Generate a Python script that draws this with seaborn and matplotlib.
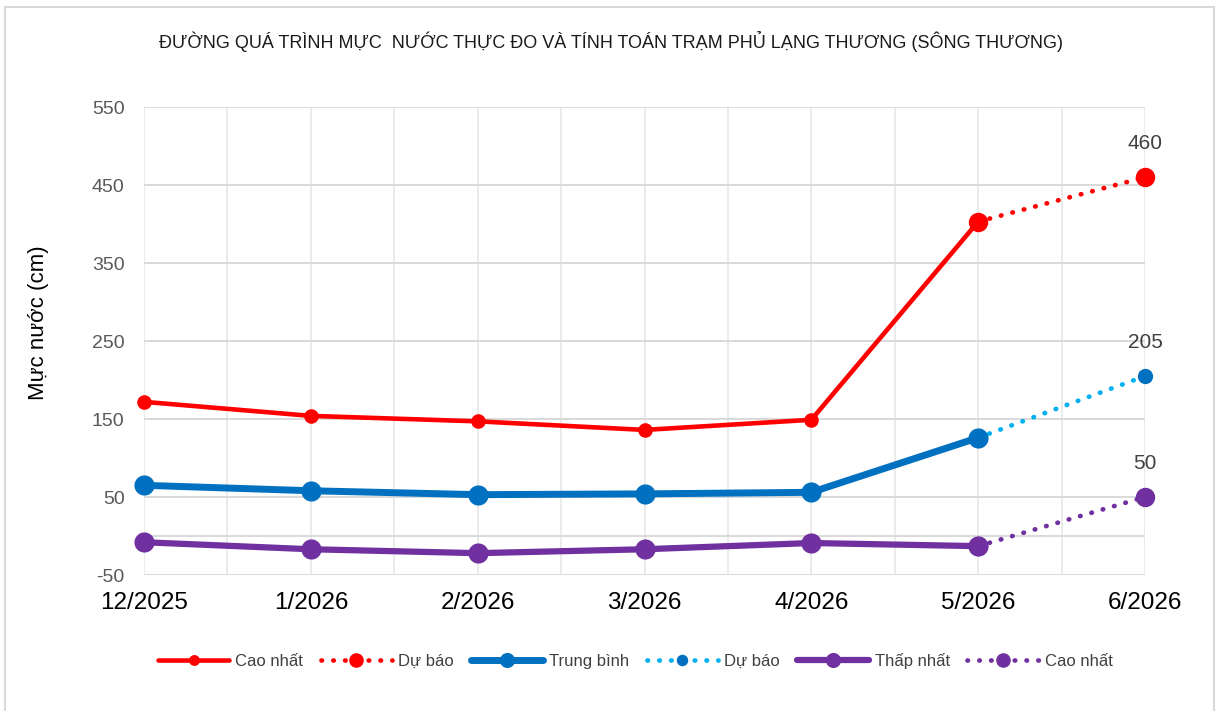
import matplotlib
matplotlib.use("Agg")
import matplotlib.pyplot as plt
from matplotlib.patches import Rectangle
from matplotlib.ticker import MultipleLocator, FixedLocator
import seaborn as sns
import pandas as pd

# ---------------- data ----------------
months = ["12/2025", "1/2026", "2/2026", "3/2026", "4/2026", "5/2026", "6/2026"]
cao_nhat = [172, 154, 147, 136, 149, 403]          # observed max, 12/2025..5/2026
trung_binh = [65, 58, 53, 54, 56, 126]             # observed mean
thap_nhat = [-8, -17, -22, -17, -9, -13]           # observed min
du_bao_cao = [403, 460]                            # forecast max, 5/2026..6/2026
du_bao_tb = [126, 205]                             # forecast mean
du_bao_thap = [-13, 50]                            # forecast min
forecast_labels = [460, 205, 50]

title = "ĐƯỜNG QUÁ TRÌNH MỰC  NƯỚC THỰC ĐO VÀ TÍNH TOÁN TRẠM PHỦ LẠNG THƯƠNG (SÔNG THƯƠNG)"
ylabel = "Mực nước (cm)"
legend_labels = ["Cao nhất", "Dự báo", "Trung bình", "Dự báo", "Thấp nhất", "Cao nhất"]

RED = "#FF0000"
BLUE = "#0070C0"
LBLUE = "#00B0F0"
PURPLE = "#7030A0"

sns.set_theme(style="white")
plt.rcParams["font.family"] = ["Liberation Sans", "DejaVu Sans"]
plt.rcParams["axes.unicode_minus"] = False

W, H = 1217, 711
fig = plt.figure(figsize=(W / 100, H / 100), dpi=100)
L, R, T, B = 144, 1145, 107, 575
ax = fig.add_axes([L / W, 1 - B / H, (R - L) / W, (B - T) / H])

x_obs = list(range(len(cao_nhat)))
x_fc = [len(cao_nhat) - 1, len(cao_nhat)]

obs = pd.DataFrame({"x": x_obs, "cao": cao_nhat, "tb": trung_binh, "thap": thap_nhat})
fc = pd.DataFrame({"x": x_fc, "cao": du_bao_cao, "tb": du_bao_tb, "thap": du_bao_thap})

dot = (0, (0.1, 2.4))
common = dict(ax=ax, markeredgewidth=0, clip_on=False, solid_capstyle="round",
              dash_capstyle="round")

sns.lineplot(data=obs, x="x", y="cao", color=RED, linewidth=3.3, marker="o",
             markersize=10.5, label=legend_labels[0], zorder=5, **common)
sns.lineplot(data=fc, x="x", y="cao", color=RED, linewidth=3.4, linestyle=dot,
             marker="o", markersize=14, label=legend_labels[1], zorder=4, **common)
sns.lineplot(data=obs, x="x", y="tb", color=BLUE, linewidth=5.0, marker="o",
             markersize=14.5, label=legend_labels[2], zorder=5, **common)
sns.lineplot(data=fc, x="x", y="tb", color=LBLUE, linewidth=3.4, linestyle=dot,
             marker="o", markersize=11, markerfacecolor=BLUE, label=legend_labels[3],
             zorder=4, **common)
sns.lineplot(data=obs, x="x", y="thap", color=PURPLE, linewidth=4.5, marker="o",
             markersize=14.5, label=legend_labels[4], zorder=5, **common)
sns.lineplot(data=fc, x="x", y="thap", color=PURPLE, linewidth=3.4, linestyle=dot,
             marker="o", markersize=14, label=legend_labels[5], zorder=4, **common)

# axes styling
ax.set_xlim(0, len(months) - 1)
ax.set_ylim(-50, 550)
ax.xaxis.set_major_locator(FixedLocator(range(len(months))))
ax.set_xticklabels(months)
ax.xaxis.set_minor_locator(MultipleLocator(0.5))
ax.yaxis.set_major_locator(FixedLocator([-50, 50, 150, 250, 350, 450, 550]))
ax.grid(True, axis="y", which="major", color="#D9D9D9", linewidth=1.4, zorder=0)
ax.grid(True, axis="x", which="both", color="#EBEBEB", linewidth=1.4, zorder=0)
ax.axhline(0, color="#D9D9D9", linewidth=1.4, zorder=1)
for s in ax.spines.values():
    s.set_visible(False)
ax.tick_params(axis="x", which="both", length=0, pad=12, labelsize=17.5, labelcolor="#000000")
ax.tick_params(axis="y", which="both", length=0, pad=14, labelsize=14, labelcolor="#595959")
ax.set_xlabel("")
ax.set_ylabel(ylabel, fontsize=16, color="#000000")
ax.yaxis.set_label_coords(-0.095, 0.54)

# data labels on forecast ends
for yv, lab in zip([du_bao_cao[-1], du_bao_tb[-1], du_bao_thap[-1]], forecast_labels):
    ax.annotate(str(lab), xy=(x_fc[-1], yv), xytext=(0, 24), textcoords="offset points",
                ha="center", va="center", fontsize=15, color="#404040",
                annotation_clip=False)

# legend
handles, labels = ax.get_legend_handles_labels()
ax.get_legend().remove()
fig.legend(handles, labels, loc="center", bbox_to_anchor=(0.522, 0.07), ncol=6,
           frameon=False, fontsize=12, labelcolor="#404040", handlelength=4.3,
           handletextpad=0.35, columnspacing=1.05, numpoints=1, markerscale=0.75)

fig.text(0.502, 0.941, title, ha="center", va="center", fontsize=13, color="#1a1a1a")

fig.add_artist(Rectangle((5 / W, -0.02), 1209 / W, (H - 7) / H + 0.02,
                         transform=fig.transFigure, fill=False, edgecolor="#D9D9D9",
                         linewidth=1.5))

fig.savefig("out.png", dpi=100)
